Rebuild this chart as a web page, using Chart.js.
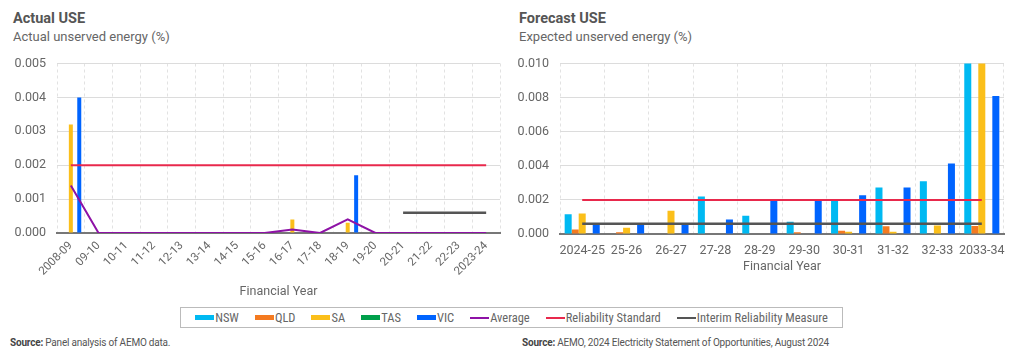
<!DOCTYPE html>
<html>
<head>
<meta charset="utf-8">
<script src="https://cdn.jsdelivr.net/npm/chart.js@4/dist/chart.umd.min.js"></script>
<style>
  body { margin: 0; width: 1024px; height: 354px; background: #fff; position: relative; overflow: hidden; font-family: Roboto, "Noto Sans", sans-serif; }
  .title { position: absolute; font-weight: bold; font-size: 14.5px; color: #555; }
  .sub { position: absolute; font-size: 13px; color: #666; }
  canvas { position: absolute; }
  #legend { position: absolute; left: 180px; top: 307px; width: 661px; height: 19px; border: 1px solid #bbb;
            display: flex; justify-content: center; align-items: center; font-family: "Liberation Sans Narrow", "Roboto Condensed", Roboto, sans-serif; font-size: 12.5px; color: #666; }
  #legend .item { display: flex; align-items: center; margin: 0 8px; }
  #legend .sw { width: 19px; margin-right: 1px; }
  .src { position: absolute; top: 337px; font-family: Roboto, sans-serif; font-size: 10px; letter-spacing: -0.2px; color: #555; }
  .src b { color: #444; }
</style>
</head>
<body>
<div class="title" style="left:13px; top:10px;">Actual USE</div>
<div class="sub" style="left:13px; top:29px;">Actual unserved energy (%)</div>
<div class="title" style="left:519px; top:10px;">Forecast USE</div>
<div class="sub" style="left:519px; top:29px;">Expected unserved energy (%)</div>

<canvas id="actual" width="510" height="258" style="left:0; top:45px;"></canvas>
<canvas id="forecast" width="514" height="233" style="left:510px; top:45px;"></canvas>

<div id="legend"></div>
<div class="src" style="left:10px;"><b>Source:</b> Panel analysis of AEMO data.</div>
<div class="src" style="left:522px;"><b>Source:</b> AEMO, 2024 Electricity Statement of Opportunities, August 2024</div>

<script>
// actual USE, 2008-09 to 2023-24
const actualYears = ['2008-09', '09-10', '10-11', '11-12', '12-13', '13-14', '14-15', '15-16',
  '16-17', '17-18', '18-19', '19-20', '20-21', '21-22', '22-23', '2023-24'];
const actualNSW = [0, 0, 0, 0, 0, 0, 0, 0, 0, 0, 0, 0, 0, 0, 0, 0];
const actualQLD = [0, 0, 0, 0, 0, 0, 0, 0, 0, 0, 0, 0, 0, 0, 0, 0];
const actualSA = [0.0032, 0, 0, 0, 0, 0, 0, 0, 0.0004, 0, 0.0003, 0, 0, 0, 0, 0];
const actualTAS = [0, 0, 0, 0, 0, 0, 0, 0, 0, 0, 0, 0, 0, 0, 0, 0];
const actualVIC = [0.004, 0, 0, 0, 0, 0, 0, 0, 0, 0, 0.0017, 0, 0, 0, 0, 0];
const actualAverage = [0.0014, 0, 0, 0, 0, 0, 0, 0, 0.0001, 0, 0.0004, 0, 0, 0, 0, 0];
const actualStandard = [0.002, 0.002, 0.002, 0.002, 0.002, 0.002, 0.002, 0.002,
  0.002, 0.002, 0.002, 0.002, 0.002, 0.002, 0.002, 0.002];
const actualInterim = [null, null, null, null, null, null, null, null,
  null, null, null, null, 0.0006, 0.0006, 0.0006, 0.0006];
const actualTicks = [0, 0.001, 0.002, 0.003, 0.004, 0.005];

// forecast USE, 2024-25 to 2033-34 (NSW and SA run off the top in 2033-34)
const forecastYears = ['2024-25', '25-26', '26-27', '27-28', '28-29', '29-30', '30-31', '31-32', '32-33', '2033-34'];
const forecastNSW = [0.00116, 0, 0, 0.0022, 0.00107, 0.00072, 0.002, 0.00273, 0.0031, 0.012];
const forecastQLD = [0.00027, 0.0001, 0, 0.00003, 0.00003, 0.0001, 0.00019, 0.00046, 0, 0.00047];
const forecastSA = [0.0012, 0.00036, 0.00137, 0, 0, 0, 0.00013, 0.00013, 0.0005, 0.012];
const forecastTAS = [0, 0, 0, 0, 0, 0, 0, 0, 0, 0];
const forecastVIC = [0.0006, 0.0006, 0.0006, 0.00085, 0.00203, 0.002, 0.00227, 0.00273, 0.00414, 0.0081];
const forecastStandard = [0.002, 0.002, 0.002, 0.002, 0.002, 0.002, 0.002, 0.002, 0.002, 0.002];
const forecastInterim = [0.0006, 0.0006, 0.0006, 0.0006, 0.0006, 0.0006, 0.0006, 0.0006, 0.0006, 0.0006];
const forecastTicks = [0, 0.002, 0.004, 0.006, 0.008, 0.010];

const colors = {
  NSW: '#00b9f2', QLD: '#f47a20', SA: '#fbbf1a', TAS: '#00a04b', VIC: '#0064ff',
  Average: '#8e12a6', Standard: '#e8294c', Interim: '#555555'
};

const lineSet = (label, data, color, width) => ({
  type: 'line', label: label, data: data, borderColor: color, backgroundColor: color,
  borderWidth: width, pointRadius: 0, tension: 0, order: 0, spanGaps: false
});
const barSet = (label, data, color) => ({
  type: 'bar', label: label, data: data, backgroundColor: color, order: 1
});

const axisText = '#666';

const makeChart = (id, labels, datasets, opts) => {
  return new Chart(document.getElementById(id), {
    data: { labels: labels, datasets: datasets },
    options: {
      responsive: false,
      animation: false,
      datasets: { bar: { categoryPercentage: opts.catPct, barPercentage: opts.barPct } },
      layout: { padding: { top: 16, right: opts.right, left: 0, bottom: 0 } },
      plugins: { legend: { display: false }, tooltip: { enabled: false } },
      scales: {
        x: {
          grid: { offset: true, color: '#e2e2e2', drawTicks: false },
          border: { display: true, color: '#777', width: 2, dash: [3, 3] },
          ticks: {
            color: axisText, font: { family: 'Roboto', size: opts.xFont }, padding: opts.xPad,
            autoSkip: false, maxRotation: opts.rot, minRotation: opts.rot
          },
          title: { display: true, text: 'Financial Year', color: axisText, font: { family: 'Roboto', size: 12.5 } },
          afterFit: s => { s.height = opts.xHeight; }
        },
        y: {
          min: 0, max: opts.max,
          afterBuildTicks: s => { s.ticks = opts.ticks.map(v => ({ value: v })); },
          grid: { color: c => (c.tick && c.tick.value === 0 ? 'rgba(0,0,0,0)' : '#dcdcdc'), drawTicks: false },
          border: { display: false },
          ticks: { color: axisText, font: { family: 'Roboto', size: 12.5 }, padding: 11, callback: v => v.toFixed(3) },
          afterFit: s => { s.width = opts.yWidth; }
        }
      }
    }
  });
};

makeChart('actual', actualYears, [
  lineSet('Average', actualAverage, colors.Average, 2),
  lineSet('Reliability Standard', actualStandard, colors.Standard, 2),
  lineSet('Interim Reliability Measure', actualInterim, colors.Interim, 2.5),
  barSet('NSW', actualNSW, colors.NSW),
  barSet('QLD', actualQLD, colors.QLD),
  barSet('SA', actualSA, colors.SA),
  barSet('TAS', actualTAS, colors.TAS),
  barSet('VIC', actualVIC, colors.VIC)
], { max: 0.005, ticks: actualTicks, right: 10, yWidth: 57, xHeight: 70, xFont: 11.5, xPad: 6, rot: 45, catPct: 0.76, barPct: 0.95 });

makeChart('forecast', forecastYears, [
  lineSet('Reliability Standard', forecastStandard, colors.Standard, 2),
  lineSet('Interim Reliability Measure', forecastInterim, colors.Interim, 2.5),
  barSet('NSW', forecastNSW, colors.NSW),
  barSet('QLD', forecastQLD, colors.QLD),
  barSet('SA', forecastSA, colors.SA),
  barSet('TAS', forecastTAS, colors.TAS),
  barSet('VIC', forecastVIC, colors.VIC)
], { max: 0.010, ticks: forecastTicks, right: 20, yWidth: 50, xHeight: 44, xFont: 12.5, xPad: 9, rot: 0, catPct: 0.79, barPct: 1.0 });

// shared legend under both charts
const legendItems = [
  ['NSW', colors.NSW, 'box'], ['QLD', colors.QLD, 'box'], ['SA', colors.SA, 'box'],
  ['TAS', colors.TAS, 'box'], ['VIC', colors.VIC, 'box'], ['Average', colors.Average, 'line'],
  ['Reliability Standard', colors.Standard, 'line'], ['Interim Reliability Measure', colors.Interim, 'line']
];
const legend = document.getElementById('legend');
legendItems.forEach(item => {
  const el = document.createElement('span');
  el.className = 'item';
  const sw = document.createElement('span');
  sw.className = 'sw';
  sw.style.height = item[2] === 'box' ? '5px' : '2px';
  sw.style.background = item[1];
  el.appendChild(sw);
  el.appendChild(document.createTextNode(item[0]));
  legend.appendChild(el);
});
</script>
</body>
</html>
